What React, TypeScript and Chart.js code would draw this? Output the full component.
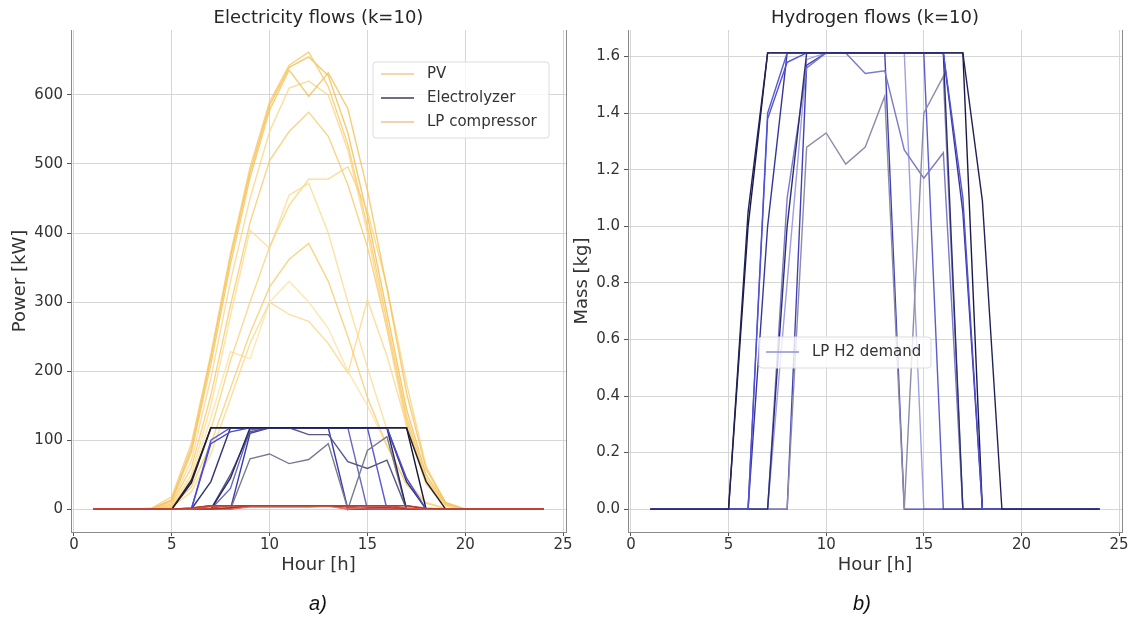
import React, { useEffect, useRef } from "react";
import { Chart, registerables } from "chart.js";

Chart.register(...registerables);

// ---------------- DATA ----------------
const HOURS = [1, 2, 3, 4, 5, 6, 7, 8, 9, 10, 11, 12, 13, 14, 15, 16, 17, 18, 19, 20, 21, 22, 23, 24];
const X_TICKS = [0, 5, 10, 15, 20, 25];
const POWER_TICKS = [0, 100, 200, 300, 400, 500, 600];
const MASS_TICKS = [0, 0.2, 0.4, 0.6, 0.8, 1.0, 1.2, 1.4, 1.6];

// PV power [kW], one row per representative day (k=10)
const PV_DAYS = [
  [0, 0, 0, 2, 18, 95, 225, 370, 495, 590, 643, 662, 612, 528, 410, 272, 135, 45, 8, 0, 0, 0, 0, 0],
  [0, 0, 0, 1, 12, 82, 210, 355, 480, 578, 636, 598, 632, 580, 462, 320, 168, 58, 10, 0, 0, 0, 0, 0],
  [0, 0, 0, 1, 10, 70, 190, 330, 450, 547, 610, 620, 600, 520, 400, 260, 120, 36, 5, 0, 0, 0, 0, 0],
  [0, 0, 0, 0, 8, 60, 165, 295, 415, 505, 547, 575, 540, 470, 380, 262, 128, 40, 6, 0, 0, 0, 0, 0],
  [0, 0, 0, 0, 5, 38, 115, 215, 300, 380, 440, 478, 478, 496, 432, 322, 182, 62, 9, 0, 0, 0, 0, 0],
  [0, 0, 0, 0, 6, 50, 150, 280, 404, 378, 455, 472, 400, 300, 205, 115, 42, 10, 1, 0, 0, 0, 0, 0],
  [0, 0, 0, 0, 4, 32, 95, 175, 255, 322, 362, 385, 330, 250, 162, 92, 36, 9, 1, 0, 0, 0, 0, 0],
  [0, 0, 0, 0, 5, 45, 132, 228, 218, 300, 330, 300, 262, 200, 150, 92, 36, 9, 1, 0, 0, 0, 0, 0],
  [0, 0, 0, 0, 3, 25, 80, 160, 240, 300, 282, 272, 240, 197, 303, 222, 122, 42, 6, 0, 0, 0, 0, 0],
  [0, 0, 0, 1, 14, 88, 220, 365, 488, 585, 640, 655, 628, 545, 425, 285, 145, 50, 8, 0, 0, 0, 0, 0],
];

// Electrolyzer power [kW]
const ELECTROLYZER_DAYS = [
  [0, 0, 0, 0, 0, 42, 118, 118, 118, 118, 118, 118, 118, 118, 118, 118, 118, 40, 0, 0, 0, 0, 0, 0],
  [0, 0, 0, 0, 0, 0, 95, 112, 118, 118, 118, 118, 118, 118, 118, 118, 45, 0, 0, 0, 0, 0, 0, 0],
  [0, 0, 0, 0, 0, 0, 0, 45, 118, 118, 118, 118, 118, 118, 118, 118, 0, 0, 0, 0, 0, 0, 0, 0],
  [0, 0, 0, 0, 0, 0, 0, 0, 73, 80, 66, 72, 95, 0, 85, 105, 0, 0, 0, 0, 0, 0, 0, 0],
  [0, 0, 0, 0, 0, 0, 0, 50, 112, 118, 118, 108, 108, 69, 59, 71, 0, 0, 0, 0, 0, 0, 0, 0],
  [0, 0, 0, 0, 0, 0, 0, 0, 110, 118, 118, 118, 118, 0, 0, 0, 0, 0, 0, 0, 0, 0, 0, 0],
  [0, 0, 0, 0, 0, 0, 100, 118, 118, 118, 118, 118, 118, 118, 118, 0, 0, 0, 0, 0, 0, 0, 0, 0],
  [0, 0, 0, 0, 0, 38, 118, 118, 118, 118, 118, 118, 118, 118, 118, 118, 118, 0, 0, 0, 0, 0, 0, 0],
  [0, 0, 0, 0, 0, 0, 40, 118, 118, 118, 118, 118, 118, 118, 118, 118, 40, 0, 0, 0, 0, 0, 0, 0],
  [0, 0, 0, 0, 0, 0, 0, 30, 115, 118, 118, 118, 118, 118, 0, 0, 0, 0, 0, 0, 0, 0, 0, 0],
];

// LP compressor power [kW]
const COMPRESSOR_DAYS = [
  [0, 0, 0, 0, 0, 1.8, 5.1, 5.1, 5.1, 5.1, 5.1, 5.1, 5.1, 5.1, 5.1, 5.1, 5.1, 1.7, 0, 0, 0, 0, 0, 0],
  [0, 0, 0, 0, 0, 0, 4.1, 4.8, 5.1, 5.1, 5.1, 5.1, 5.1, 5.1, 5.1, 5.1, 1.9, 0, 0, 0, 0, 0, 0, 0],
  [0, 0, 0, 0, 0, 0, 0, 1.9, 5.1, 5.1, 5.1, 5.1, 5.1, 5.1, 5.1, 5.1, 0, 0, 0, 0, 0, 0, 0, 0],
  [0, 0, 0, 0, 0, 0, 0, 0, 3.2, 3.5, 2.9, 3.1, 4.1, 0, 3.7, 4.5, 0, 0, 0, 0, 0, 0, 0, 0],
  [0, 0, 0, 0, 0, 0, 0, 2.2, 4.8, 5.1, 5.1, 4.7, 4.7, 3.0, 2.5, 3.1, 0, 0, 0, 0, 0, 0, 0, 0],
  [0, 0, 0, 0, 0, 0, 0, 0, 4.8, 5.1, 5.1, 5.1, 5.1, 0, 0, 0, 0, 0, 0, 0, 0, 0, 0, 0],
  [0, 0, 0, 0, 0, 0, 4.3, 5.1, 5.1, 5.1, 5.1, 5.1, 5.1, 5.1, 5.1, 0, 0, 0, 0, 0, 0, 0, 0, 0],
  [0, 0, 0, 0, 0, 1.6, 5.1, 5.1, 5.1, 5.1, 5.1, 5.1, 5.1, 5.1, 5.1, 5.1, 5.1, 0, 0, 0, 0, 0, 0, 0],
  [0, 0, 0, 0, 0, 0, 1.7, 5.1, 5.1, 5.1, 5.1, 5.1, 5.1, 5.1, 5.1, 5.1, 1.7, 0, 0, 0, 0, 0, 0, 0],
  [0, 0, 0, 0, 0, 0, 0, 1.3, 5.0, 5.1, 5.1, 5.1, 5.1, 5.1, 0, 0, 0, 0, 0, 0, 0, 0, 0, 0],
];

// LP H2 demand [kg]
const H2_DAYS = [
  [0, 0, 0, 0, 0, 1.05, 1.613, 1.613, 1.613, 1.613, 1.613, 1.613, 1.613, 1.613, 1.613, 1.613, 1.613, 1.09, 0, 0, 0, 0, 0, 0],
  [0, 0, 0, 0, 0, 0, 1.38, 1.58, 1.613, 1.613, 1.613, 1.613, 1.613, 1.613, 1.613, 1.613, 1.1, 0, 0, 0, 0, 0, 0, 0],
  [0, 0, 0, 0, 0, 0, 0, 1.0, 1.613, 1.613, 1.613, 1.613, 1.613, 1.613, 1.613, 1.613, 0, 0, 0, 0, 0, 0, 0, 0],
  [0, 0, 0, 0, 0, 0, 0, 0, 1.28, 1.33, 1.22, 1.28, 1.46, 0, 1.4, 1.53, 0, 0, 0, 0, 0, 0, 0, 0],
  [0, 0, 0, 0, 0, 0, 0, 1.1, 1.56, 1.613, 1.613, 1.54, 1.55, 1.27, 1.17, 1.26, 0, 0, 0, 0, 0, 0, 0, 0],
  [0, 0, 0, 0, 0, 0, 0, 0, 1.57, 1.613, 1.613, 1.613, 1.613, 0, 0, 0, 0, 0, 0, 0, 0, 0, 0, 0],
  [0, 0, 0, 0, 0, 0, 1.4, 1.613, 1.613, 1.613, 1.613, 1.613, 1.613, 1.613, 1.613, 0, 0, 0, 0, 0, 0, 0, 0, 0],
  [0, 0, 0, 0, 0, 1.0, 1.613, 1.613, 1.613, 1.613, 1.613, 1.613, 1.613, 1.613, 1.613, 1.613, 1.613, 0, 0, 0, 0, 0, 0, 0],
  [0, 0, 0, 0, 0, 0, 1.0, 1.613, 1.613, 1.613, 1.613, 1.613, 1.613, 1.613, 1.613, 1.613, 1.05, 0, 0, 0, 0, 0, 0, 0],
  [0, 0, 0, 0, 0, 0, 0, 0.8, 1.59, 1.613, 1.613, 1.613, 1.613, 1.613, 0, 0, 0, 0, 0, 0, 0, 0, 0, 0],
];

// ---------------- STYLE ----------------
const PV_COLORS = [
  "rgba(248,200,100,0.8)", "rgba(246,192,88,0.8)", "rgba(250,214,132,0.8)", "rgba(247,198,96,0.75)",
  "rgba(249,210,120,0.8)", "rgba(251,220,140,0.8)", "rgba(248,204,104,0.8)", "rgba(252,225,160,0.8)",
  "rgba(250,215,135,0.8)", "rgba(244,188,76,0.8)",
];
const EL_COLORS = [
  "#20203a", "#4a4ad8", "#2a2a5e", "#7a7a8c", "#56568a", "#3c3cb4", "#5a5ad2", "#18182e", "#33337a", "#6a6ac0",
];
const COMP_COLORS = [
  "#c0392b", "#d9534f", "#a93226", "#e6735f", "#b03a2e", "#cc4444", "#d46a5a", "#8e2020", "#b94a48", "#e08070",
];
const H2_COLORS = [
  "#22225a", "#5050d8", "#2c2c78", "#8c8ca8", "#7a7ac8", "#4040b8", "#5c5cd0", "#1a1a48", "#36369a", "#a0a0e0",
];

const FONT = '"DejaVu Sans", sans-serif';
const GRID = "#d6d6d6";
const SPINE = "#8a8a8a";
const TEXT = "#333333";

function pts(values: number[]) {
  return HOURS.map((h, i) => ({ x: h, y: values[i] }));
}

function ds(label: string, values: number[], color: string, width = 1.4) {
  return {
    label,
    data: pts(values),
    borderColor: color,
    backgroundColor: color,
    borderWidth: width,
    pointRadius: 0,
    tension: 0,
    fill: false,
  };
}

function xScale() {
  return {
    type: "linear",
    min: -0.15,
    max: 25.15,
    afterBuildTicks: (s: any) => {
      s.ticks = X_TICKS.map((v) => ({ value: v }));
    },
    afterFit: (s: any) => {
      s.height = 50;
      s.paddingLeft = 0;
      s.paddingRight = 0;
    },
    ticks: {
      font: { family: FONT, size: 15 },
      color: TEXT,
      padding: 0,
      maxRotation: 0,
      autoSkip: false,
      callback: (v: any) => String(v),
    },
    grid: { color: GRID, tickColor: "#555", tickLength: 4, lineWidth: 1 },
    border: { color: SPINE, width: 1 },
    title: {
      display: true,
      text: "Hour [h]",
      font: { family: FONT, size: 18 },
      color: TEXT,
      padding: { top: 0, bottom: 6 },
    },
  };
}

function yScale(min: number, max: number, ticks: number[], width: number, title: string, titlePad: number, fmt: (v: number) => string) {
  return {
    type: "linear",
    min,
    max,
    afterBuildTicks: (s: any) => {
      s.ticks = ticks.map((v) => ({ value: v }));
    },
    afterFit: (s: any) => {
      s.width = width;
      s.paddingTop = 0;
      s.paddingBottom = 0;
    },
    ticks: {
      font: { family: FONT, size: 15 },
      color: TEXT,
      padding: 4,
      autoSkip: false,
      callback: (v: any) => fmt(Number(v)),
    },
    grid: { color: GRID, tickColor: "#555", tickLength: 4, lineWidth: 1 },
    border: { color: SPINE, width: 1 },
    title: {
      display: true,
      text: title,
      font: { family: FONT, size: 18 },
      color: TEXT,
      padding: { top: titlePad, bottom: 0 },
    },
  };
}

type LegendItem = { text: string; color: string };
type LegendSpec = { x: number; y: number; w: number; h: number; rows: number[]; lx1: number; lx2: number; tx: number; items: LegendItem[] };

function decorPlugin(title: string, legend: LegendSpec) {
  return {
    id: "decor",
    afterDraw(chart: any) {
      const { ctx, chartArea: a } = chart;
      ctx.save();
      // right spine
      ctx.strokeStyle = SPINE;
      ctx.lineWidth = 1;
      ctx.beginPath();
      ctx.moveTo(Math.round(a.right) + 0.5, a.top);
      ctx.lineTo(Math.round(a.right) + 0.5, a.bottom);
      ctx.stroke();
      // title
      ctx.fillStyle = "#262626";
      ctx.font = `18px ${FONT}`;
      ctx.textAlign = "center";
      ctx.textBaseline = "middle";
      ctx.fillText(title, (a.left + a.right) / 2, 18);
      // legend
      const r = 3;
      const { x, y, w, h } = legend;
      ctx.beginPath();
      ctx.moveTo(x + r, y);
      ctx.lineTo(x + w - r, y);
      ctx.quadraticCurveTo(x + w, y, x + w, y + r);
      ctx.lineTo(x + w, y + h - r);
      ctx.quadraticCurveTo(x + w, y + h, x + w - r, y + h);
      ctx.lineTo(x + r, y + h);
      ctx.quadraticCurveTo(x, y + h, x, y + h - r);
      ctx.lineTo(x, y + r);
      ctx.quadraticCurveTo(x, y, x + r, y);
      ctx.closePath();
      ctx.fillStyle = "rgba(255,255,255,0.8)";
      ctx.fill();
      ctx.strokeStyle = "#dcdcdc";
      ctx.lineWidth = 1;
      ctx.stroke();
      ctx.font = `15px ${FONT}`;
      ctx.textAlign = "left";
      legend.items.forEach((it, i) => {
        const cy = legend.rows[i];
        ctx.strokeStyle = it.color;
        ctx.lineWidth = 1.5;
        ctx.beginPath();
        ctx.moveTo(legend.lx1, cy);
        ctx.lineTo(legend.lx2, cy);
        ctx.stroke();
        ctx.fillStyle = TEXT;
        ctx.fillText(it.text, legend.tx, cy);
      });
      ctx.restore();
    },
  };
}

function ChartCanvas({ config, left, width }: { config: any; left: number; width: number }) {
  const ref = useRef<HTMLCanvasElement | null>(null);
  useEffect(() => {
    const chart = new Chart(ref.current as HTMLCanvasElement, config);
    return () => chart.destroy();
  }, []);
  return (
    <canvas
      ref={ref}
      width={width}
      height={618}
      style={{ position: "absolute", left, top: 0, width, height: 618, display: "block" }}
    />
  );
}

function commonOptions(scales: any) {
  return {
    responsive: false,
    animation: false,
    devicePixelRatio: 1,
    events: [],
    plugins: { legend: { display: false }, tooltip: { enabled: false }, title: { display: false } },
    scales,
  };
}

export default function App() {
  // Left: electricity flows
  const leftDatasets: any[] = [];
  COMPRESSOR_DAYS.forEach((d, i) => leftDatasets.push(ds("LP compressor", d, COMP_COLORS[i], 1.3)));
  ELECTROLYZER_DAYS.forEach((d, i) => leftDatasets.push(ds("Electrolyzer", d, EL_COLORS[i], 1.4)));
  PV_DAYS.forEach((d, i) => leftDatasets.push(ds("PV", d, PV_COLORS[i], 1.4)));

  const leftConfig = {
    type: "line",
    data: { datasets: leftDatasets },
    options: {
      ...commonOptions({
        x: xScale(),
        y: yScale(-33, 694, POWER_TICKS, 71, "Power [kW]", 10, (v) => String(Math.round(v))),
      }),
      layout: { padding: { left: 0, top: 30, right: 14, bottom: 36 } },
    },
    plugins: [
      decorPlugin("Electricity flows (k=10)", {
        x: 373, y: 62, w: 176, h: 76, rows: [74, 98, 122], lx1: 381, lx2: 414, tx: 427,
        items: [
          { text: "PV", color: "#f3c98f" },
          { text: "Electrolyzer", color: "#3c3c5c" },
          { text: "LP compressor", color: "#eec39a" },
        ],
      }),
    ],
  };

  const rightDatasets: any[] = H2_DAYS.map((d, i) => ds("LP H2 demand", d, H2_COLORS[i], 1.4));
  const rightConfig = {
    type: "line",
    data: { datasets: rightDatasets },
    options: {
      ...commonOptions({
        x: xScale(),
        y: yScale(-0.0807, 1.694, MASS_TICKS, 62, "Mass [kg]", 6, (v) => v.toFixed(1)),
      }),
      layout: { padding: { left: 0, top: 30, right: 11, bottom: 36 } },
    },
    plugins: [
      decorPlugin("Hydrogen flows (k=10)", {
        x: 193, y: 337, w: 172, h: 31, rows: [352], lx1: 200, lx2: 233, tx: 246,
        items: [{ text: "LP H2 demand", color: "#8f8fd0" }],
      }),
    ],
  };

  const labelStyle: any = {
    position: "absolute",
    top: 593,
    fontFamily: '"Liberation Sans", Arial, sans-serif',
    fontStyle: "italic",
    fontSize: 20,
    lineHeight: "20px",
    color: "#111",
    transform: "translateX(-50%)",
    whiteSpace: "nowrap",
  };

  return (
    <div style={{ position: "absolute", left: 0, top: 0, width: 1133, height: 618, background: "#fff", overflow: "hidden" }}>
      <ChartCanvas config={leftConfig} left={0} width={580} />
      <ChartCanvas config={rightConfig} left={566} width={567} />
      <div style={{ ...labelStyle, left: 318 }}>a)</div>
      <div style={{ ...labelStyle, left: 862 }}>b)</div>
    </div>
  );
}
